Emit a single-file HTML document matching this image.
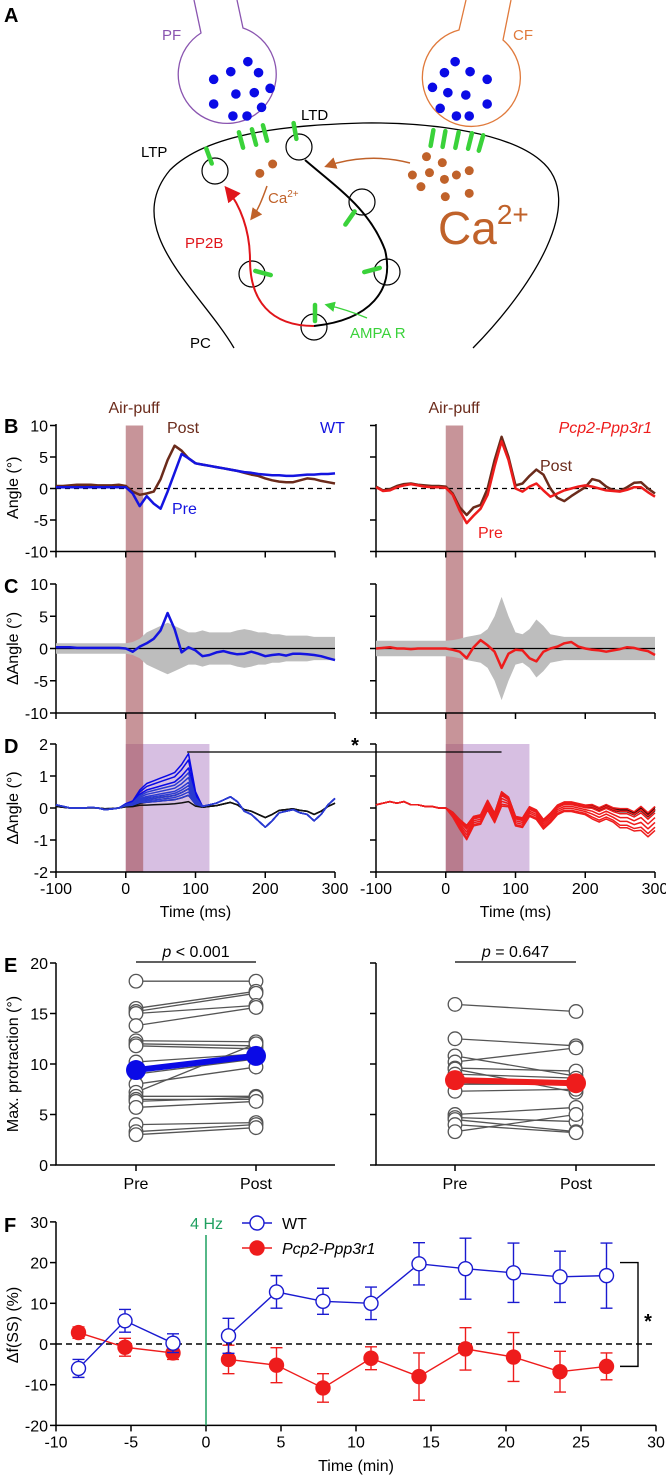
<!DOCTYPE html>
<html><head><meta charset="utf-8"><style>
html,body{margin:0;padding:0;background:#fff;}
svg{display:block;font-family:"Liberation Sans",Arial,sans-serif;}
</style></head><body>
<svg id="fig" width="666" height="1479" viewBox="0 0 666 1479" xmlns="http://www.w3.org/2000/svg">
<defs>
<linearGradient id="pathgrad" x1="0" y1="0" x2="0" y2="1"><stop offset="0" stop-color="#000"/><stop offset="1" stop-color="#8a0000"/></linearGradient>
<marker id="arrB" markerWidth="8" markerHeight="8" refX="6" refY="4" orient="auto"><path d="M0,0 L8,4 L0,8 z" fill="#c0622a"/></marker>
<marker id="arrR" markerWidth="8" markerHeight="8" refX="6" refY="4" orient="auto"><path d="M0,0 L8,4 L0,8 z" fill="#e0151b"/></marker>
<marker id="arrG" markerWidth="8" markerHeight="8" refX="6" refY="4" orient="auto"><path d="M0,0 L8,4 L0,8 z" fill="#3ad23a"/></marker>
</defs>
<!-- Panel A diagram -->
<g>
<text x="4" y="22" font-size="20" font-weight="bold">A</text>
<path d="M194,0 L201,33 A49,49 0 1 0 243,28 L237,0" fill="none" stroke="#8a55b0" stroke-width="1.3"/>
<text x="162" y="40" font-size="15" fill="#8a55b0">PF</text>
<path d="M466,0 L459,30 A49,49 0 1 0 503,40 L511,0" fill="none" stroke="#e07a3c" stroke-width="1.3"/>
<text x="513" y="40" font-size="15" fill="#e07a3c">CF</text>
<path d="M234,348 C200,290 120,230 170,170 C210,130 300,125 363,123 C440,122 510,135 540,160 C590,200 530,290 473,348" fill="none" stroke="#000" stroke-width="1.3"/>
<g id="spines" fill="none" stroke="#000" stroke-width="1.2"></g>
<path d="M305,160 C340,190 370,210 385,250 C395,290 370,320 314,326" fill="none" stroke="#000" stroke-width="2"/>
<path d="M314,326 C270,326 250,300 250,260 C250,230 240,205 227,189" fill="none" stroke="#e0151b" stroke-width="2" marker-end="url(#arrR)"/>
<g id="greens" stroke="#3ad23a" stroke-width="4.5" stroke-linecap="round"></g>
<g id="dots"></g>
<path d="M410,163 C380,155 350,158 327,166" fill="none" stroke="#c0622a" stroke-width="1.5" marker-end="url(#arrB)"/>
<path d="M267,186 C262,200 258,210 252,218" fill="none" stroke="#c0622a" stroke-width="1.5" marker-end="url(#arrB)"/>
<path d="M367,318 C355,313 340,308 327,305" fill="none" stroke="#3ad23a" stroke-width="1.3" marker-end="url(#arrG)"/>
<text x="141" y="157" font-size="15">LTP</text>
<text x="301" y="120" font-size="15">LTD</text>
<text x="268" y="203" font-size="15" fill="#c0622a">Ca<tspan dy="-6" font-size="10">2+</tspan></text>
<text x="438" y="244" font-size="46" fill="#c0622a">Ca<tspan dy="-20" font-size="28">2+</tspan></text>
<text x="185" y="248" font-size="15" fill="#e0151b">PP2B</text>
<text x="190" y="348" font-size="15">PC</text>
<text x="350" y="338" font-size="15" fill="#3ad23a">AMPA R</text>
</g>
<g id="charts"></g>
</svg>
<script>
// ===== data =====
const times = [-100,-90,-80,-70,-60,-50,-40,-30,-20,-10,0,10,20,30,40,50,60,70,80,90,100,110,120,130,140,150,160,170,180,190,200,210,220,230,240,250,260,270,280,290,300];
const bPreWT = [0.2,0.2,0.2,0.2,0.2,0.2,0.2,0.2,0.2,0.2,0.2,-0.8,-2.8,-1.2,-2.4,-3.2,-0.5,2.5,5.5,4.8,4.0,3.8,3.6,3.4,3.2,3.0,2.8,2.6,2.5,2.3,2.2,2.1,2.1,2.0,2.0,2.1,2.2,2.2,2.3,2.3,2.4];
const bPostWT = [0.4,0.4,0.5,0.6,0.6,0.6,0.5,0.5,0.5,0.6,0.4,-0.5,-1.0,-0.8,-0.5,1.5,4.5,6.8,6.0,4.8,4.0,3.8,3.6,3.4,3.2,3.0,2.8,2.5,2.2,2.0,1.6,1.3,1.1,1.0,1.0,1.3,1.6,1.5,1.2,1.0,0.8];
const bPreKO = [0.2,-0.4,-0.3,0.2,0.5,0.7,0.5,0.3,0.2,0.2,0.1,-1.0,-3.5,-5.5,-4.3,-3.2,-1.0,3.5,7.5,4.5,0.0,-0.5,0.3,0.8,-0.3,-1.3,-0.8,-0.3,0.0,0.3,0.5,0.3,0.0,-0.3,-0.4,-0.5,-0.2,0.2,0.2,-0.6,-1.3];
const bPostKO = [0.3,-0.3,-0.1,0.4,0.7,0.8,0.6,0.5,0.4,0.4,0.3,-0.8,-3.0,-4.2,-3.0,-2.6,0.0,4.5,8.2,5.0,0.5,0.8,2.0,3.0,2.2,0.0,-1.5,-2.0,-1.2,-0.5,0.2,1.5,1.2,0.3,-0.3,-0.4,0.2,0.9,1.0,0.0,-0.8];
const cWT = [0.2,0.2,0.2,0.1,0.1,0.1,0.1,0.1,0.1,0.1,0.0,-0.5,0.3,0.8,1.5,2.8,5.5,3.0,-0.6,0.2,-0.3,-1.2,-1.0,-0.6,-0.4,-0.7,-0.9,-0.8,-0.5,-0.8,-1.2,-1.0,-0.9,-1.1,-0.8,-0.8,-0.9,-1.0,-1.2,-1.5,-1.8];
const cBandWT = [0.8,0.8,0.8,0.8,0.8,0.8,0.8,0.8,0.8,0.8,0.8,1.0,1.5,2.5,3.0,3.5,4.0,3.5,3.0,2.5,2.5,2.8,2.5,2.5,2.5,2.5,2.8,3.0,2.8,2.5,2.5,2.2,2.2,2.0,2.0,2.0,2.0,1.8,1.8,1.8,1.8];
const cKO = [0,0.1,0.2,0,0,-0.1,0,0,0,0,0,-0.2,-0.5,-1.5,0.2,1.3,0.5,-0.5,-3.0,-0.8,-0.2,-0.3,-1.5,-2.0,-0.5,0,0.3,0.8,1.0,0.3,0,-0.2,-0.3,-0.5,-0.3,-0.1,0.2,0.1,-0.2,-0.4,-1.0];
const cBandKO = [1.2,1.2,1.2,1.2,1.2,1.2,1.2,1.2,1.2,1.2,1.2,1.3,1.5,1.8,2.0,2.2,3.0,5.0,8.0,5.0,2.5,2.2,3.0,4.5,3.5,2.2,2.0,1.8,1.8,1.8,1.8,1.8,1.8,1.8,1.8,1.8,1.8,1.8,1.8,1.8,1.8];
const dPeakWT = [0,0,0,0,0,0,0,0,0,0,0.05,0.1,0.3,0.45,0.5,0.55,0.6,0.65,0.8,1.0,0.3,0,0,0,0,0,0,0,0,0,0,0,0,0,0,0,0,0,0,0,0];
const dLateWT = [0.1,0.05,0,0,0,0.02,0,-0.05,-0.03,0,0.05,0.05,0.05,0,0,0,0,0,0,0,0,0.05,0.1,0.15,0.25,0.35,0.2,-0.1,-0.2,-0.4,-0.6,-0.4,-0.15,-0.1,-0.05,-0.15,-0.2,-0.4,-0.2,0.1,0.3];
const dGainsWT = [1.7,1.5,1.25,1.1,0.95,0.8,0.7,0.6,0.5,0.4];
const dGainsWTctrl = [0.6,0.4,0.2];
const dBaseKO = [0.1,0.15,0.2,0.15,0.2,0.1,0.1,0.05,0.05,0,0,-0.2,-0.5,-0.75,-0.4,-0.35,0.1,-0.3,0.3,0.2,-0.4,-0.45,-0.1,-0.2,-0.5,-0.3,-0.05,0.05,0.05,0,-0.05,-0.1,-0.2,-0.1,-0.2,-0.3,-0.3,-0.4,-0.3,-0.5,-0.3];
const dSpreadKO = [0,0,0,0,0,0,0,0,0,0,0,0.1,0.2,0.3,0.2,0.2,0.2,0.2,0.3,0.2,0.2,0.2,0.2,0.2,0.2,0.2,0.2,0.2,0.2,0.2,0.2,0.3,0.3,0.3,0.3,0.4,0.4,0.4,0.5,0.5,0.5];
const dGainsKO = [-0.6,-0.3,0,0.3,0.5,0.7,-0.8];
const dGainsKOctrl = [0.9,1.1,1.3];
const ePreWT = [18.2,15.5,15.2,15.0,13.8,12.3,12.0,11.8,10.2,9.0,8.0,7.2,6.8,6.5,6.3,5.7,4.0,3.3,3.0];
const ePostWT = [18.2,17.2,17.0,15.8,15.6,12.2,11.8,11.5,11.0,10.5,9.7,12.0,6.8,6.5,6.7,6.3,4.2,4.0,3.7];
const eMeanWT = [9.4,10.8];
const ePreKO = [15.9,12.5,10.8,10.2,9.6,9.5,9.0,8.0,7.3,5.0,4.7,4.5,4.0,3.3];
const ePostKO = [15.2,11.8,8.8,11.6,9.3,7.2,8.6,8.0,7.5,5.7,4.3,3.3,3.2,5.0];
const eMeanKO = [8.4,8.1];
const fTimes = [-8.5,-5.4,-2.2,1.5,4.7,7.8,11,14.2,17.3,20.5,23.6,26.7];
const fWT = [-6,5.7,0.2,2,12.8,10.5,10,19.7,18.5,17.5,16.5,16.8];
const fWTerr = [2.2,2.8,2.3,4.3,4,3.2,4,5.2,7.5,7.3,6.3,8];
const fKO = [2.8,-0.8,-2.2,-3.8,-5.2,-10.8,-3.5,-8,-1.2,-3.2,-6.8,-5.5];
const fKOerr = [1.4,2.2,1.6,3.5,4.3,3.5,2.8,5.8,5.2,6,5,3.3];

// ===== drawing =====
const NS='http://www.w3.org/2000/svg';
const root=document.getElementById('charts');
function el(tag,attrs,parent,text){const e=document.createElementNS(NS,tag);for(const k in attrs)e.setAttribute(k,attrs[k]);if(text!==undefined)e.textContent=text;(parent||root).appendChild(e);return e;}

// Panel A extras
const spines=document.getElementById('spines');
[[215,171],[299,147],[362,202],[252,274],[387,272],[314,327]].forEach(p=>{const c=el('ellipse',{cx:p[0],cy:p[1],rx:13,ry:13},spines);

});
const greens=document.getElementById('greens');
[[241,140,-15],[254,137,-15],[265,133,-15],[295,131,-10],[209,156,-20],[432,138,10],[444,139,10],[457,140,12],[470,141,14],[481,143,16],[350,218,35],[263,273,-75],[372,270,75],[315,313,0]].forEach(g=>{
const l=el('line',{x1:0,y1:-8,x2:0,y2:8,transform:`translate(${g[0]},${g[1]}) rotate(${g[2]})`},greens);

});
const dots=document.getElementById('dots');
[[580,185],[540,215],[605,218],[500,238],[632,265],[552,282],[595,278],[500,312],[612,322],[545,348],[578,348],[1065,185],[1040,218],[1100,215],[1140,238],[1012,262],[1048,278],[1090,285],[1140,312],[1030,325],[1068,348],[1098,348]].forEach(d=>{
const c=el('circle',{cx:d[0]/2.34,cy:d[1]/3,r:4.8,fill:'#0a0ae6'},dots);

});
[[998,470],[1035,488],[965,525],[1005,518],[1040,538],[1068,525],[1098,512],[985,560],[1042,590],[1098,580],[638,492],[608,520]].forEach(d=>{
const c=el('circle',{cx:d[0]/2.34,cy:d[1]/3,r:4.5,fill:'#c0622a'},dots);

});

const FS=16;
const panels=[{x0:56,label:true},{x0:376,label:false}];
function xT(t,p){return panels[p].x0+(t+100)*0.6975;}
const rows={B:{top:424,zero:488.5,scale:6.3,min:-10,max:10,step:5},C:{top:584,zero:648.5,scale:6.45,min:-10,max:10,step:5},D:{top:744,zero:808,scale:32,min:-2,max:2,step:1}};
function yR(r,v){return rows[r].zero-v*rows[r].scale;}

// shading
for(let p=0;p<2;p++){
 const pr=el('rect',{x:xT(0,p),y:yR('D',2),width:xT(120,p)-xT(0,p),height:yR('D',-2)-yR('D',2),fill:'#d7bfe2'});
 
 
 const ap=el('rect',{x:xT(0,p),y:yR('B',10),width:xT(25,p)-xT(0,p),height:yR('D',-2)-yR('B',10),fill:'#a4525a',opacity:0.62});
 
 
 const t=el('text',{x:xT(12,p),y:413,'font-size':FS,fill:'#6b2b1b','text-anchor':'middle'},root,'Air-puff');
 
 
}
function axesRow(r,letter,ylab){
 const R=rows[r];const bot=yR(r,R.min);
 for(let p=0;p<2;p++){
  const x0=panels[p].x0;
  const ax=el('path',{d:`M${x0},${R.top} V${bot} H${xT(300,p)}`,fill:'none',stroke:'#000','stroke-width':1.5});
  
  
  for(let v=R.min;v<=R.max;v+=R.step){
   el('line',{x1:x0-6,x2:x0,y1:yR(r,v),y2:yR(r,v),stroke:'#000','stroke-width':1.5});
   if(p===0){const tl=el('text',{x:x0-8,y:yR(r,v)+6,'font-size':FS,'text-anchor':'end'},root,String(v));
    
    }
  }
  for(let t=-100;t<=300;t+=100){
   el('line',{x1:xT(t,p),x2:xT(t,p),y1:bot,y2:bot+6,stroke:'#000','stroke-width':1.5});
   if(r==='D'){const tl=el('text',{x:xT(t,p),y:bot+22,'font-size':FS,'text-anchor':'middle'},root,String(t));
    
    }
  }
  if(r==='D'){const xl=el('text',{x:xT(100,p),y:bot+45,'font-size':FS,'text-anchor':'middle'},root,'Time (ms)');
   
   }
 }
 const L=el('text',{x:4,y:R.top+9,'font-size':20,'font-weight':'bold'},root,letter);
 
 
 const cy=(R.top+bot)/2;
 const yl=el('text',{x:0,y:0,'font-size':FS,'text-anchor':'middle',transform:`translate(18,${cy}) rotate(-90)`},root,ylab);
 
 
}
function line(arr,r,p,color,w,name){
 const d=arr.map((v,i)=>(i?'L':'M')+xT(times[i],p).toFixed(1)+','+yR(r,v).toFixed(1)).join(' ');
 const e=el('path',{d:d,fill:'none',stroke:color,'stroke-width':w,'stroke-linejoin':'round'});
 
 
 return e;
}
function band(arr,half,r,p,name){
 const up=arr.map((v,i)=>xT(times[i],p).toFixed(1)+','+yR(r,half[i]).toFixed(1));
 const dn=arr.map((v,i)=>xT(times[i],p).toFixed(1)+','+yR(r,-half[i]).toFixed(1)).reverse();
 const e=el('polygon',{points:up.concat(dn).join(' '),fill:'#bdbdbd'});
 
 
}
// B
axesRow('B','B','Angle (°)');
for(let p=0;p<2;p++){const z=el('line',{x1:xT(-100,p),x2:xT(300,p),y1:yR('B',0),y2:yR('B',0),stroke:'#000','stroke-dasharray':'5,4','stroke-width':1.2});
 
 }
line(bPostWT,'B',0,'#6b2b1b',2.5,'post-trace-wt');
line(bPreWT,'B',0,'#1414e0',2.5,'pre-trace-wt');
line(bPostKO,'B',1,'#6b2b1b',2.5,'post-trace-ko');
line(bPreKO,'B',1,'#ee1c1c',2.5,'pre-trace-ko');
[[167,433,'Post','#6b2b1b','start',''],[320,433,'WT','#1414e0','start',''],[172,514,'Pre','#1414e0','start',''],[652,433,'Pcp2-Ppp3r1','#ee1c1c','end','italic'],[540,471,'Post','#6b2b1b','start',''],[478,538,'Pre','#ee1c1c','start','']].forEach(a=>{
 const t=el('text',{x:a[0],y:a[1],'font-size':FS,fill:a[3],'text-anchor':a[4],'font-style':a[5]||'normal'},root,a[2]);
 
 });
// C
axesRow('C','C','ΔAngle (°)');
band(cWT,cBandWT,'C',0,'shuffle-band-wt');
band(cKO,cBandKO,'C',1,'shuffle-band-ko');
for(let p=0;p<2;p++){const z=el('line',{x1:xT(-100,p),x2:xT(300,p),y1:yR('C',0),y2:yR('C',0),stroke:'#000','stroke-width':1.2});
 
 }
line(cWT,'C',0,'#1414e0',2.5,'delta-trace-wt');
line(cKO,'C',1,'#ee1c1c',2.5,'delta-trace-ko');
// D
axesRow('D','D','ΔAngle (°)');
dGainsWTctrl.forEach(g=>line(dPeakWT.map((v,i)=>v*g+dLateWT[i]*0.5),'D',0,'#111',1.5,'trial-trace-wt-early'));
dGainsWT.forEach((g,k)=>line(dPeakWT.map((v,i)=>v*g+dLateWT[i]),'D',0,k<3?'#0a0ae6':'#2a3ad0',1.5,'trial-trace-wt'));
dGainsKOctrl.forEach(g=>line(dBaseKO.map((v,i)=>v+g*dSpreadKO[i]*0.5),'D',1,'#2a0a0a',1.5,'trial-trace-ko-early'));
dGainsKO.forEach(g=>line(dBaseKO.map((v,i)=>v+g*dSpreadKO[i]),'D',1,'#ee1c1c',1.5,'trial-trace-ko'));
const sig=el('path',{d:`M${xT(88,0)},${yR('D',1.75)} H${xT(80,1)}`,stroke:'#000','stroke-width':1.3,fill:'none'});


const st=el('text',{x:355,y:752,'font-size':20,'font-weight':'bold','text-anchor':'middle'},root,'*');



// E
function yE(v){return 1165-v*10.1;}
const eX=[[136,256],[455,576]];
for(let p=0;p<2;p++){
 const x0=panels[p].x0;
 const ax=el('path',{d:`M${x0},${yE(20)} V${yE(0)} H${xT(300,p)}`,fill:'none',stroke:'#000','stroke-width':1.5});
 
 
 for(let v=0;v<=20;v+=5){el('line',{x1:x0-6,x2:x0,y1:yE(v),y2:yE(v),stroke:'#000','stroke-width':1.5});
  if(p===0){const t=el('text',{x:x0-8,y:yE(v)+6,'font-size':FS,'text-anchor':'end'},root,String(v));
   
   }}
 ['Pre','Post'].forEach((s,i)=>{el('line',{x1:eX[p][i],x2:eX[p][i],y1:yE(0),y2:yE(0)+6,stroke:'#000','stroke-width':1.5});
  const t=el('text',{x:eX[p][i],y:1189,'font-size':FS,'text-anchor':'middle'},root,s);
  
  });
 el('line',{x1:eX[p][0],x2:eX[p][1],y1:962,y2:962,stroke:'#000','stroke-width':1.3});
 const pt=el('text',{x:(eX[p][0]+eX[p][1])/2,y:957,'font-size':FS,'text-anchor':'middle'},root);
 
 
 el('tspan',{'font-style':'italic'},pt,'p');
 el('tspan',{},pt,p===0?' < 0.001':' = 0.647');
}
function pairs(pre,post,mean,p,color){
 pre.forEach((v,i)=>{const l=el('line',{x1:eX[p][0],x2:eX[p][1],y1:yE(v),y2:yE(post[i]),stroke:'#555','stroke-width':1.3});
  
  });
 pre.forEach((v,i)=>{[[0,v],[1,post[i]]].forEach(q=>{const c=el('circle',{cx:eX[p][q[0]],cy:yE(q[1]),r:6.8,fill:'#fff',stroke:'#555','stroke-width':1.3});
  
  });});
 const m=el('line',{x1:eX[p][0],x2:eX[p][1],y1:yE(mean[0]),y2:yE(mean[1]),stroke:color,'stroke-width':6});
 
 
 mean.forEach((v,i)=>{const c=el('circle',{cx:eX[p][i],cy:yE(v),r:10,fill:color});
  
  });
}
pairs(ePreWT,ePostWT,eMeanWT,0,'#0a0ae6');
pairs(ePreKO,ePostKO,eMeanKO,1,'#ee1c1c');
const LE=el('text',{x:4,y:972,'font-size':20,'font-weight':'bold'},root,'E');


const yle=el('text',{x:0,y:0,'font-size':FS,'text-anchor':'middle',transform:'translate(18,1064) rotate(-90)'},root,'Max. protraction (°)');



// F
function xF(m){return 56+(m+10)*15;}
function yF(v){return 1344-v*4.07;}
const fax=el('path',{d:`M${xF(-10)},${yF(30)} V${yF(-20)} H${xF(30)}`,fill:'none',stroke:'#000','stroke-width':1.5});


for(let v=-20;v<=30;v+=10){el('line',{x1:50,x2:56,y1:yF(v),y2:yF(v),stroke:'#000','stroke-width':1.5});
 const t=el('text',{x:48,y:yF(v)+6,'font-size':FS,'text-anchor':'end'},root,String(v));
 
 }
for(let m=-10;m<=30;m+=5){el('line',{x1:xF(m),x2:xF(m),y1:yF(-20),y2:yF(-20)+6,stroke:'#000','stroke-width':1.5});
 const t=el('text',{x:xF(m),y:yF(-20)+22,'font-size':FS,'text-anchor':'middle'},root,String(m));
 
 }
const xtf=el('text',{x:xF(10),y:1471,'font-size':FS,'text-anchor':'middle'},root,'Time (min)');


const ytf=el('text',{x:0,y:0,'font-size':FS,'text-anchor':'middle',transform:'translate(18,1325) rotate(-90)'},root,'Δf(SS) (%)');


const LF=el('text',{x:4,y:1232,'font-size':20,'font-weight':'bold'},root,'F');


const zf=el('line',{x1:xF(-10),x2:xF(30),y1:yF(0),y2:yF(0),stroke:'#000','stroke-dasharray':'6,4','stroke-width':1.5});


const stim=el('line',{x1:xF(0),x2:xF(0),y1:1235,y2:yF(-20),stroke:'#1fa060','stroke-width':1.5});


const hz=el('text',{x:xF(0)+17,y:1229,'font-size':FS,fill:'#1fa060','text-anchor':'end'},root,'4 Hz');


function series(vals,errs,color,filled,name){
 const d=vals.map((v,i)=>(i<3?(i?'L':'M'):(i===3?'M':'L'))+xF(fTimes[i])+','+yF(v)).join(' ');
 const pl=el('path',{d:d,fill:'none',stroke:color,'stroke-width':1.4});
 
 
 vals.forEach((v,i)=>{const x=xF(fTimes[i]);
  const e=el('path',{d:`M${x},${yF(v+errs[i])} V${yF(v-errs[i])} M${x-6},${yF(v+errs[i])} h12 M${x-6},${yF(v-errs[i])} h12`,stroke:color,'stroke-width':1.4,fill:'none'});
  
  
  const c=el('circle',{cx:x,cy:yF(v),r:7,fill:filled?color:'#fff',stroke:color,'stroke-width':1.4});
  
  });
}
series(fKO,fKOerr,'#ee1c1c',true,'ko');
series(fWT,fWTerr,'#1a1ad0',false,'wt');
// legend
[[1223,'#1a1ad0',false,'WT',''],[1248,'#ee1c1c',true,'Pcp2-Ppp3r1','italic']].forEach(l=>{
 const g=el('g',{});
 
 
 el('line',{x1:242,x2:272,y1:l[0],y2:l[0],stroke:l[1],'stroke-width':1.4},g);
 el('circle',{cx:257,cy:l[0],r:7,fill:l[2]?l[1]:'#fff',stroke:l[1],'stroke-width':1.4},g);
 el('text',{x:282,y:l[0]+6,'font-size':FS,'font-style':l[4]||'normal'},g,l[3]);
});
const br=el('path',{d:`M620,${yF(20)} H638 V${yF(-5.5)} H620`,fill:'none',stroke:'#000','stroke-width':1.4});


const sf=el('text',{x:648,y:1328,'font-size':20,'font-weight':'bold','text-anchor':'middle'},root,'*');


</script>
</body></html>
